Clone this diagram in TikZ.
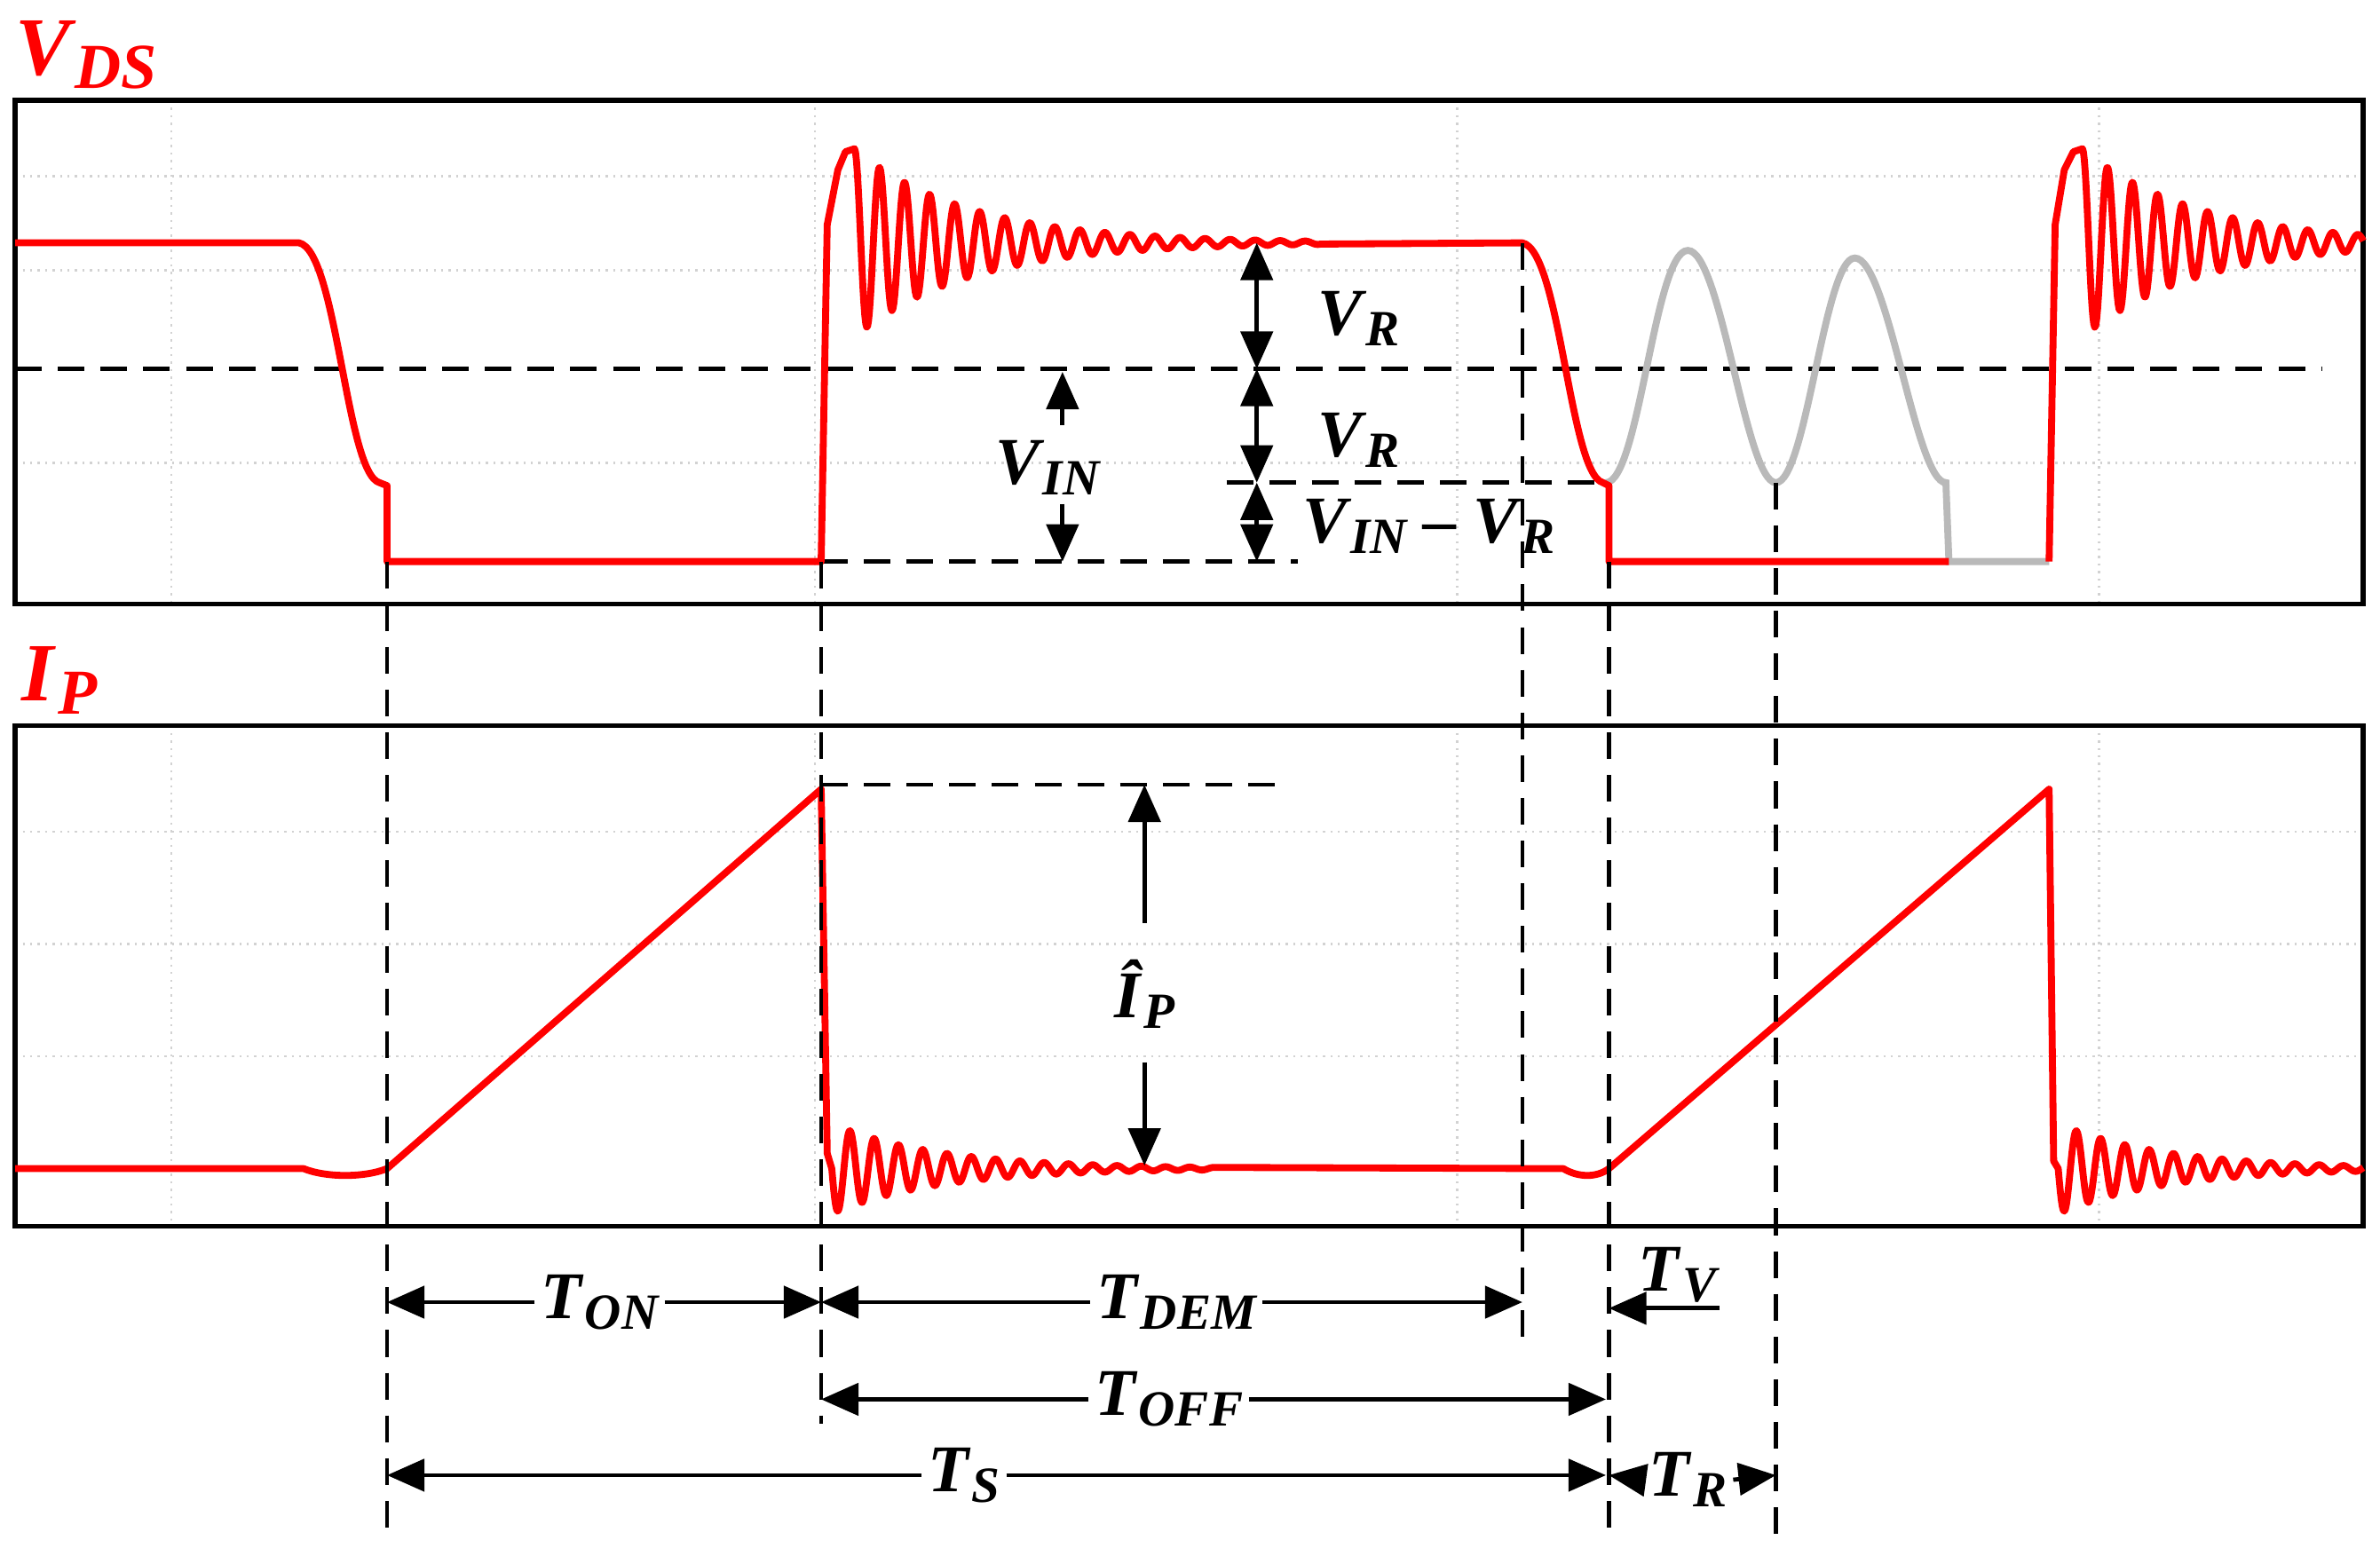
\documentclass[tikz,border=0pt]{standalone}
\usepackage{fontspec}
\setmainfont{Liberation Serif}
\usetikzlibrary{arrows.meta}
\newcommand{\vsub}[2]{#1\kern0.05em\raisebox{-0.35ex}{\fontsize{9.5}{11}\selectfont #2}}
\begin{document}
\begin{tikzpicture}[x=0.01cm,y=-0.01cm,
  wave/.style={red,line width=1.3pt,line join=round},
  gwave/.style={gray!55,line width=1.3pt},
  dsh/.style={black,dashed,line width=0.8pt,dash pattern=on 5pt off 3pt},
  dim/.style={black,line width=0.8pt,-{Triangle[length=7pt,width=6pt]}},
  dimb/.style={black,line width=0.8pt,{Triangle[length=7pt,width=6pt]}-{Triangle[length=7pt,width=6pt]}},
  grid/.style={gray!35,line width=0.4pt,densely dotted},
  lbl/.style={font=\fontsize{12.5}{14}\selectfont\bfseries\itshape,inner sep=1pt},
  rlbl/.style={font=\fontsize{15.5}{18}\selectfont\bfseries\itshape,text=red,inner sep=1pt}]
\useasboundingbox (0,0) rectangle (1568,1030);
% grids
\foreach \xx in {113,537,960,1383}{
  \draw[grid] (\xx,66) -- (\xx,398); \draw[grid] (\xx,478) -- (\xx,808);}
\foreach \yy in {116,178,305}{\draw[grid] (10,\yy) -- (1557,\yy);}
\foreach \yy in {548,622,696}{\draw[grid] (10,\yy) -- (1557,\yy);}
% boxes
\draw[line width=0.9pt] (10,66) rectangle (1557,398);
\draw[line width=0.9pt] (10,478) rectangle (1557,808);
\node[rlbl,anchor=west] (vds) at (6,36) {\vsub{V}{\fontsize{12}{14}\selectfont DS}};
\node[rlbl,anchor=west] (ip) at (10,448) {\vsub{I}{\fontsize{12}{14}\selectfont P}};
% VDS dashed refs
\draw[dsh] (10,243) -- (1530,243);
\draw[dsh] (808,318) -- (1058,318);
\draw[dsh] (541,370) -- (855,370);
% gray ringing
\draw[gwave] (1058,318) .. controls (1080,318) and (1090,165) .. (1112,165)
  .. controls (1134,165) and (1150,318) .. (1170,318)
  .. controls (1190,318) and (1202,170) .. (1222,170)
  .. controls (1244,170) and (1262,318) .. (1282,318) -- (1284,370) -- (1350,370);
% VDS red
\draw[wave] (10,160) -- (197,160) .. controls (222,165) and (228,312) .. (250,318) -- (255,320) -- (255,370) -- (541,370) -- (545,148) -- (552,112) -- (557,100)
  -- plot[domain=563:870,samples=500] (\x,{160-62*exp(-(\x-563)/75)*cos(21.818*(\x-563))})
  -- (1003,160) .. controls (1028,165) and (1034,312) .. (1056,318) -- (1060,320) -- (1060,370) -- (1284,370);
\draw[wave] (1350,370) -- (1354,148) -- (1360,112) -- (1366,100)
  -- plot[domain=1372:1557,samples=300] (\x,{160-62*exp(-(\x-1372)/75)*cos(21.818*(\x-1372))});
% IP red
\draw[wave] (10,770) -- (200,770) .. controls (215,776) and (240,776) .. (255,770) -- (541,520) -- (545,760)
  -- plot[domain=548:800,samples=400] (\x,{770+25*exp(-(\x-560)/70)*sin(22.5*(\x-548))})
  -- (1030,770) .. controls (1040,776) and (1052,776) .. (1060,770) -- (1350,520) -- (1353,765)
  -- plot[domain=1356:1557,samples=300] (\x,{770+25*exp(-(\x-1368)/70)*sin(22.5*(\x-1356))});
\draw[dsh] (541,517) -- (845,517);
% VDS annotations
\coordinate (a1) at (828,160); \coordinate (a2) at (828,243); \coordinate (a3) at (828,318); \coordinate (a4) at (828,370);
\draw[dimb] (a1) -- (a2); \draw[dimb] (a2) -- (a3); \draw[dimb] (a3) -- (a4);
\node[lbl,anchor=west] (vr1) at (864,210) {\vsub{V}{R}};
\node[lbl,anchor=west] (vr2) at (864,290) {\vsub{V}{R}};
\node[lbl,anchor=west] (vinr) at (854,347) {\vsub{V}{IN} – \vsub{V}{R}};
\node[lbl] (vin) at (690,308) {\vsub{V}{IN}};
\coordinate (b1) at (700,245); \coordinate (b2) at (700,370);
\draw[dim] (700,280) -- (b1); \draw[dim] (700,332) -- (b2);
% IP annotation
\node[lbl] (iph) at (754,655) {\vsub{\^{I}}{P}};
\coordinate (c1) at (754,517); \coordinate (c2) at (754,768);
\draw[dim] (754,608) -- (c1); \draw[dim] (754,700) -- (c2);
% verticals
\draw[dsh] (255,370) -- (255,1012);
\draw[dsh] (541,370) -- (541,938);
\draw[dsh] (1003,160) -- (1003,885);
\draw[dsh] (1060,370) -- (1060,1012);
\draw[dsh] (1170,318) -- (1170,1012);
% timing
\node[lbl] (ton) at (395,858) {\vsub{T}{ON}};
\draw[dim] (ton.west) -- (255,858); \draw[dim] (ton.east) -- (541,858);
\node[lbl] (tdem) at (775,858) {\vsub{T}{DEM}};
\draw[dim] (tdem.west) -- (541,858); \draw[dim] (tdem.east) -- (1003,858);
\node[lbl] (tv) at (1105,840) {\vsub{T}{V}};
\draw[dim] (1133,862) -- (1060,862);
\node[lbl] (toff) at (770,922) {\vsub{T}{OFF}};
\draw[dim] (toff.west) -- (541,922); \draw[dim] (toff.east) -- (1058,922);
\node[lbl] (ts) at (635,972) {\vsub{T}{S}};
\draw[dim] (ts.west) -- (255,972); \draw[dim] (ts.east) -- (1058,972);
\node[lbl] (tr) at (1112,975) {\vsub{T}{R}};
\draw[dim] (tr.west) -- (1060,972); \draw[dim] (tr.east) -- (1170,972);
\end{tikzpicture}
\end{document}
